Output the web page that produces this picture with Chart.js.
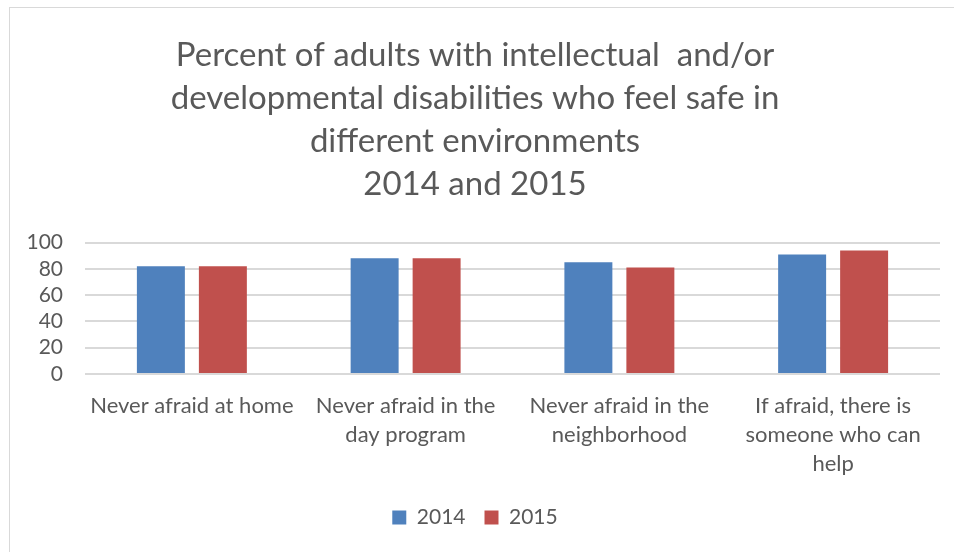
<!DOCTYPE html>
<html>
<head>
<meta charset="utf-8">
<script src="https://cdn.jsdelivr.net/npm/chart.js@4.4.1/dist/chart.umd.min.js"></script>
<style>
  html, body { margin: 0; padding: 0; background: #ffffff; overflow: hidden; }
  #frame {
    position: absolute; left: 9px; top: 7px; width: 960px; height: 560px;
    border-left: 1px solid #d9d9d9; border-top: 1px solid #d9d9d9;
    pointer-events: none;
  }
  #wrap { position: relative; width: 954px; height: 552px; }
</style>
</head>
<body>
<div id="wrap">
  <canvas id="safety-chart" width="954" height="552"></canvas>
  <div id="frame"></div>
</div>
<script>
// Safety survey results by environment, 2014 vs 2015
const categories = [
  ["Never afraid at home"],
  ["Never afraid in the", "day program"],
  ["Never afraid in the", "neighborhood"],
  ["If afraid, there is", "someone who can", "help"]
];
const values2014 = [82, 88, 85, 91];
const values2015 = [82, 88, 81, 94];
const yTicks = [0, 20, 40, 60, 80, 100];

const titleLines = [
  "Percent of adults with intellectual  and/or",
  "developmental disabilities who feel safe in",
  "different environments",
  "2014 and 2015"
];

const textColor = "#595959";
const fontFamily = "Lato, 'Open Sans', sans-serif";

Chart.defaults.font.family = fontFamily;
Chart.defaults.color = textColor;

const ctx = document.getElementById("safety-chart").getContext("2d");

new Chart(ctx, {
  type: "bar",
  data: {
    labels: categories,
    datasets: [
      {
        label: "2014",
        data: values2014,
        backgroundColor: "#4F81BD",
        categoryPercentage: 0.58,
        barPercentage: 0.774
      },
      {
        label: "2015",
        data: values2015,
        backgroundColor: "#C0504D",
        categoryPercentage: 0.58,
        barPercentage: 0.774
      }
    ]
  },
  options: {
    responsive: false,
    animation: false,
    layout: { padding: { left: 10, right: 14, top: 14, bottom: 14 } },
    plugins: {
      title: {
        display: true,
        text: titleLines,
        color: textColor,
        font: { size: 33, weight: "normal", lineHeight: 1.3 },
        padding: { top: 20, bottom: 37 }
      },
      legend: {
        position: "bottom",
        labels: {
          color: textColor,
          font: { size: 21 },
          boxWidth: 14,
          boxHeight: 14,
          padding: 19
        }
      },
      tooltip: { enabled: false }
    },
    scales: {
      x: {
        grid: { display: false },
        border: { display: false },
        afterFit: (scale) => { scale.height = 114; },
        ticks: {
          color: textColor,
          font: { size: 22, lineHeight: 1.32 },
          maxRotation: 0,
          autoSkip: false,
          padding: 9
        }
      },
      y: {
        min: 0,
        max: 100,
        afterBuildTicks: (scale) => {
          scale.ticks = yTicks.map(v => ({ value: v }));
        },
        afterFit: (scale) => { scale.width = 75; },
        grid: { color: "#d9d9d9", lineWidth: 2, drawTicks: false },
        border: { display: false },
        ticks: {
          color: textColor,
          font: { size: 21 },
          autoSkip: false,
          padding: 22
        }
      }
    }
  }
});
</script>
</body>
</html>
